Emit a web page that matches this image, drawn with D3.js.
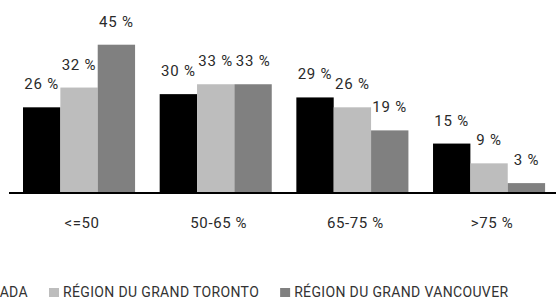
<!DOCTYPE html>
<html>
<head>
<meta charset="utf-8">
<script src="https://cdn.jsdelivr.net/npm/d3@7"></script>
<style>
  html, body { margin: 0; padding: 0; background: #fff; }
  svg { display: block; }
</style>
</head>
<body>
<figure id="bars" style="margin:0"></figure>
<script>
// data
const categories = ["<=50", "50-65 %", "65-75 %", ">75 %"];
const series = ["CANADA", "RÉGION DU GRAND TORONTO", "RÉGION DU GRAND VANCOUVER"];
const canada = [26, 30, 29, 15];
const toronto = [32, 33, 26, 9];
const vancouver = [45, 33, 19, 3];
const colors = ["#000000", "#bdbdbd", "#808080"];

const width = 556, height = 299;
const values = [canada, toronto, vancouver];

const svg = d3.select("figure#bars")
  .append("svg")
  .attr("width", width)
  .attr("height", height);

// scales
const x0 = d3.scaleBand()
  .domain(categories)
  .range([10.7, 557.4])
  .paddingInner(0.18)
  .paddingOuter(0.09);

const x1 = d3.scaleBand()
  .domain(series)
  .range([0, x0.bandwidth()]);

const y = d3.scaleLinear()
  .domain([0, 45])
  .range([193, 44.7]);

const color = d3.scaleOrdinal().domain(series).range(colors);

// flatten into rows
const rows = [];
categories.forEach((c, i) => {
  series.forEach((s, j) => {
    rows.push({ cat: c, ser: s, val: values[j][i] });
  });
});

// bars
svg.append("g")
  .selectAll("rect")
  .data(rows)
  .enter()
  .append("rect")
  .attr("x", d => x0(d.cat) + x1(d.ser))
  .attr("y", d => y(d.val))
  .attr("width", x1.bandwidth())
  .attr("height", d => y(0) - y(d.val))
  .style("fill", d => color(d.ser));

// value labels
svg.append("g")
  .selectAll("text")
  .data(rows)
  .enter()
  .append("text")
  .attr("x", d => x0(d.cat) + x1(d.ser) + x1.bandwidth() / 2)
  .attr("y", d => y(d.val) - 18)
  .attr("text-anchor", "middle")
  .style("font-family", "Roboto, sans-serif")
  .style("font-size", "15px")
  .style("letter-spacing", "0.8px")
  .style("fill", "#2a2a2a")
  .text(d => d.val + " %");

// baseline axis
const axis = svg.append("g")
  .attr("transform", "translate(0," + y(0) + ")")
  .call(d3.axisBottom(x0).tickSize(0).tickPadding(24));
axis.select(".domain")
  .attr("d", "M9,0H556")
  .attr("stroke", "#000")
  .attr("stroke-width", 2);
axis.selectAll(".tick text")
  .attr("dx", 3)
  .style("font-family", "Roboto, sans-serif")
  .style("font-size", "15px")
  .style("letter-spacing", "0.6px")
  .style("fill", "#2a2a2a");

// legend, first item runs off the left edge like the original
const legend = svg.append("g")
  .attr("transform", "translate(0,297)");
const items = legend.selectAll("g")
  .data(series)
  .enter()
  .append("g");
items.append("rect")
  .attr("y", -9)
  .attr("width", 10)
  .attr("height", 9)
  .style("fill", d => color(d));
items.append("text")
  .attr("x", 14)
  .style("font-family", "Roboto, sans-serif")
  .style("font-size", "14px")
  .style("letter-spacing", "0.35px")
  .style("fill", "#333")
  .text(d => d);

// lay out items from the second one (placed at x=49)
const widths = [];
items.selectAll("text").each(function() { widths.push(this.getComputedTextLength()); });
const gap = 21;
const pos = [];
pos[1] = 49;
pos[2] = pos[1] + 14 + widths[1] + gap;
pos[0] = pos[1] - gap - widths[0] - 14;
items.attr("transform", (d, i) => "translate(" + pos[i] + ",0)");
</script>
</body>
</html>
